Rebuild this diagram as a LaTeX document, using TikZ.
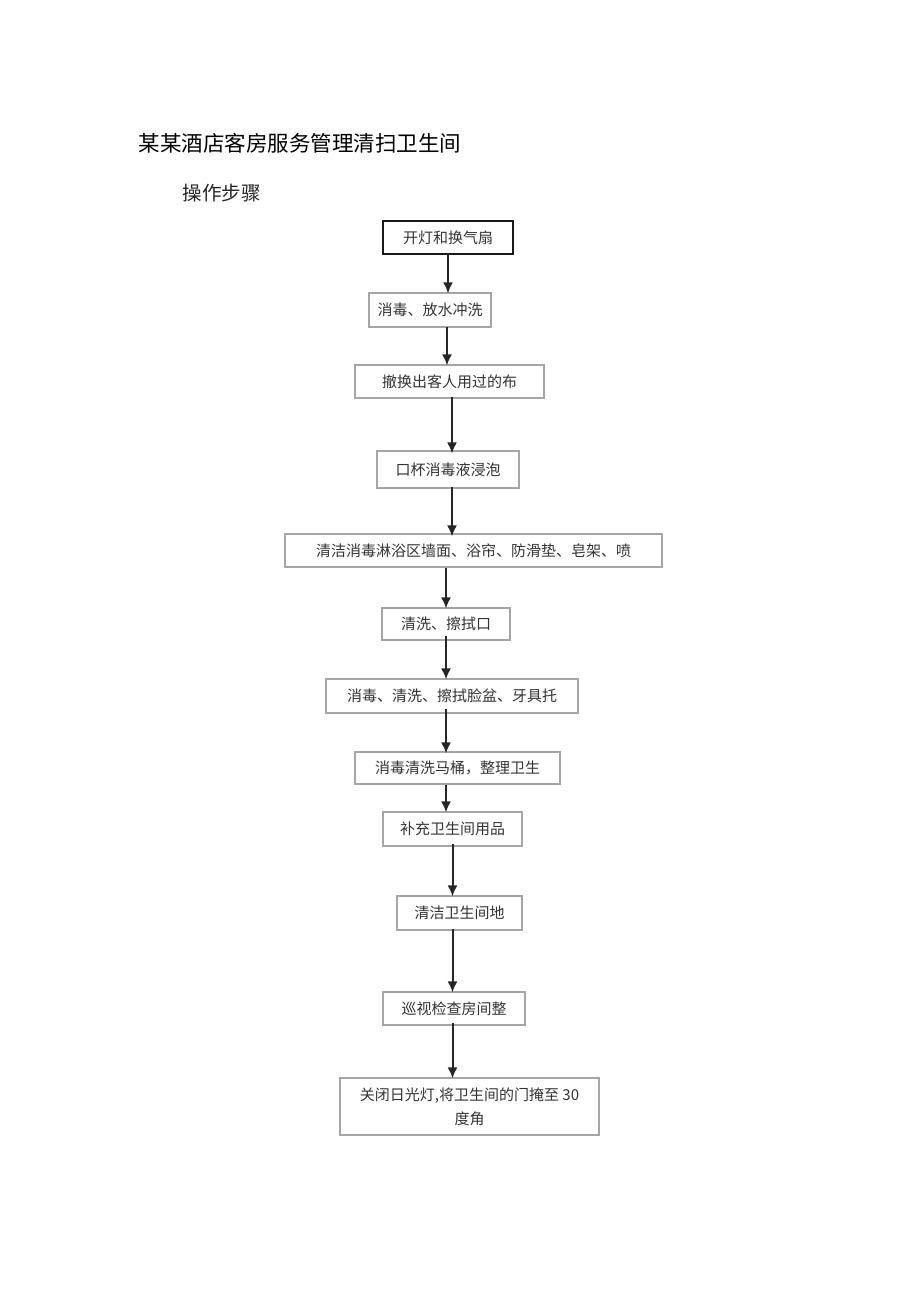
\documentclass[tikz,border=0pt]{standalone}
\usepackage{fontspec}
\newfontfamily\cjk{Noto Sans CJK SC}
\usepackage{tikz}
\usetikzlibrary{arrows.meta}

\begin{document}
\begin{tikzpicture}[x=1pt,y=-1pt,
    stepbox/.style={draw=gray!70,line width=1.1pt,text=black!80,inner sep=0pt,
      font=\cjk\fontsize{15}{24}\selectfont},
    flow/.style={-{Latex[length=11pt,width=10pt]},line width=2pt,draw=black!85}]
    \useasboundingbox (0,0) rectangle (920,1301);
    % --- HEADINGS ---
    \node[font=\cjk\fontsize{21.5}{24}\selectfont,anchor=west] (title) at (135,143) {某某酒店客房服务管理清扫卫生间};
    \node[font=\cjk\fontsize{19.5}{22}\selectfont,anchor=west,text=black!85] (sub) at (179,193) {操作步骤};

    % --- BOXES ---
	\node[stepbox,draw=black!90,line width=1.5pt,minimum width=130,minimum height=33] (b1) at (448,237.5) {开灯和换气扇};
	\node[stepbox,minimum width=122,minimum height=34] (b2) at (430,310) {消毒、放水冲洗};
	\node[stepbox,minimum width=189,minimum height=33] (b3) at (449.5,381.5) {撤换出客人用过的布};
	\node[stepbox,minimum width=142,minimum height=37] (b4) at (448,469.5) {口杯消毒液浸泡};
	\node[stepbox,minimum width=377,minimum height=33] (b5) at (473.5,550.5) {清洁消毒淋浴区墙面、浴帘、防滑垫、皂架、喷};
	\node[stepbox,minimum width=128,minimum height=32] (b6) at (446,624) {清洗、擦拭口};
	\node[stepbox,minimum width=252,minimum height=34] (b7) at (452,696) {消毒、清洗、擦拭脸盆、牙具托};
	\node[stepbox,minimum width=205,minimum height=32] (b8) at (457.5,768) {消毒清洗马桶，整理卫生};
	\node[stepbox,minimum width=139,minimum height=34] (b9) at (452.5,829) {补充卫生间用品};
	\node[stepbox,minimum width=125,minimum height=34] (b10) at (459.5,913) {清洁卫生间地};
	\node[stepbox,minimum width=142,minimum height=33] (b11) at (454,1008.5) {巡视检查房间整};
	\node[stepbox,minimum width=259,minimum height=57,align=center] (b12) at (469.5,1106.5) {关闭日光灯,将卫生间的门掩至 30\\度角};

    % --- ARROWS ---
	\coordinate (c1) at ([xshift=4pt]b4.south);
	\draw[flow] ([yshift=1pt]b1.south) -- ([yshift=-1pt]b1.south |- b2.north);
	\draw[flow] ([xshift=-1pt,yshift=1pt]b1.south |- b2.south) -- ([xshift=-1pt,yshift=-1pt]b1.south |- b3.north);
	\draw[flow] ([yshift=2pt]c1 |- b3.south) -- ([yshift=-3pt]c1 |- b4.north);
	\draw[flow] ([yshift=2pt]c1) -- ([yshift=-3pt]c1 |- b5.north);
	\draw[flow] (b6.north |- b5.south) -- ([yshift=-1pt]b6.north);
	\draw[flow] ([yshift=5pt]b6.south) -- ([yshift=-1pt]b6.south |- b7.north);
	\draw[flow] ([yshift=5pt]b6.south |- b7.south) -- ([yshift=-2pt]b6.south |- b8.north);
	\draw[flow] (b6.south |- b8.south) -- ([yshift=-1pt]b6.south |- b9.north);
	\draw[flow] ([yshift=3pt]b9.south) -- ([yshift=-1pt]b9.south |- b10.north);
	\draw[flow] ([yshift=2pt]b9.south |- b10.south) -- ([yshift=-1pt]b9.south |- b11.north);
	\draw[flow] ([yshift=3pt]b9.south |- b11.south) -- ([yshift=-1pt]b9.south |- b12.north);
\end{tikzpicture}
\end{document}
